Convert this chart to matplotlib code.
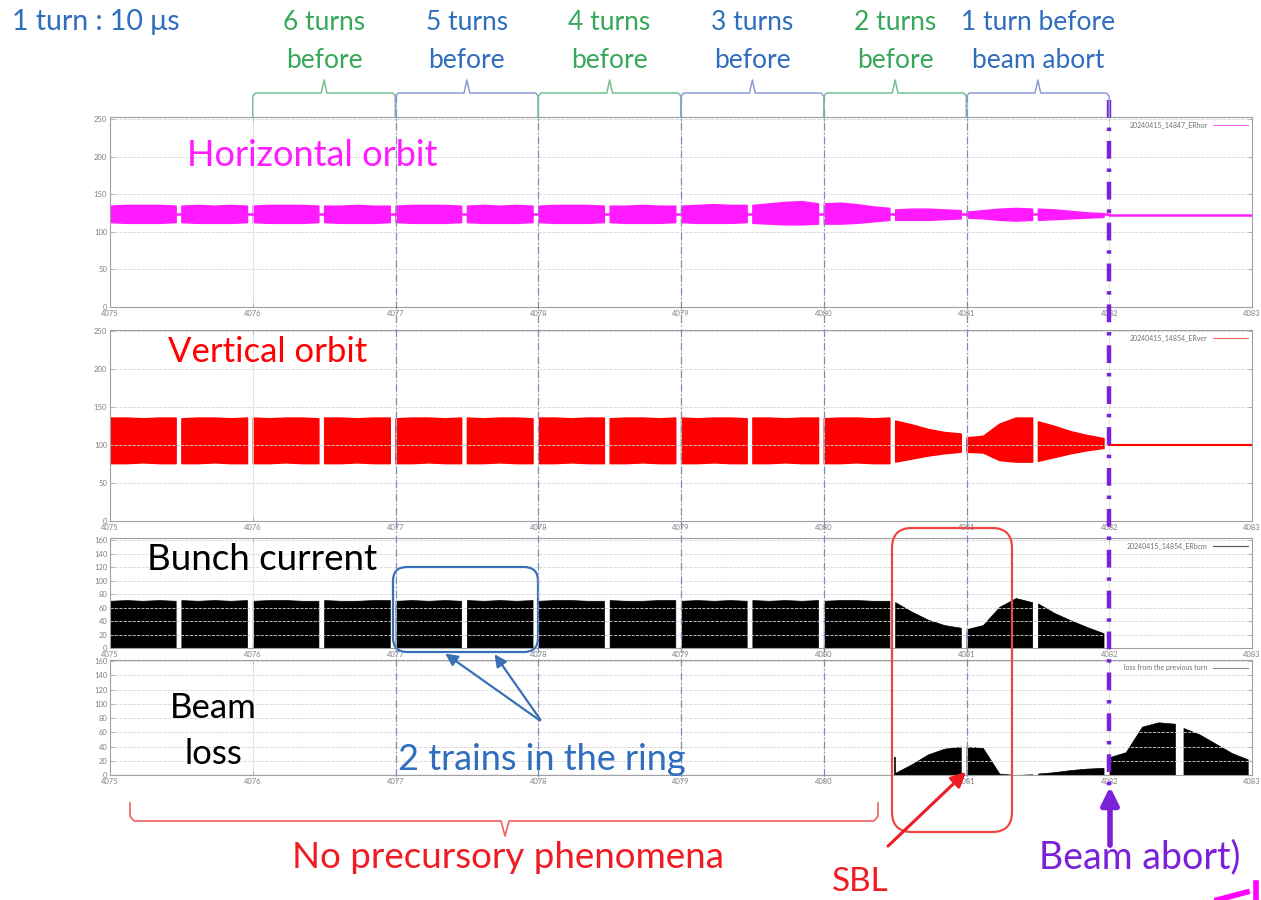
import numpy as np
import matplotlib.pyplot as plt
from matplotlib.lines import Line2D
from matplotlib.patches import FancyBboxPatch
from matplotlib.transforms import blended_transform_factory

plt.rcParams['font.family'] = ['Lato', 'DejaVu Sans']

# x axis = turn number (1 turn = 10 us), 2 bunch trains per turn
turn_ticks = [4075, 4076, 4077, 4078, 4079, 4080, 4081, 4082, 4083]
train_start = [4075.00, 4075.50, 4076.00, 4076.50, 4077.00, 4077.50, 4078.00,
               4078.50, 4079.00, 4079.50, 4080.00, 4080.50, 4081.00, 4081.50]
train_end = [4075.46, 4075.96, 4076.46, 4076.96, 4077.46, 4077.96, 4078.46,
             4078.96, 4079.46, 4079.96, 4080.46, 4080.96, 4081.46, 4081.96]
# loss panel is shifted by one turn, so it has 2 more trains after the abort
loss_start = train_start + [4082.00, 4082.52]
loss_end = train_end + [4082.46, 4082.97]
abort_turn = 4082

# envelopes read at 5 points along every train
hor_hi = [[135, 136, 136, 136, 135], [135, 136, 135, 136, 135], [135, 136, 136, 136, 135],
          [135, 135, 136, 135, 135], [135, 136, 136, 136, 135], [135, 136, 135, 136, 135],
          [135, 136, 136, 136, 135], [135, 135, 136, 135, 135], [135, 136, 137, 136, 136],
          [136, 138, 140, 141, 138], [138, 139, 137, 134, 132], [130, 131, 131, 130, 129],
          [127, 129, 131, 132, 131], [131, 130, 128, 126, 125]]
hor_lo = [[113, 112, 112, 112, 113]] * 9 + [
          [112, 111, 110, 110, 111], [111, 111, 112, 114, 116], [116, 116, 116, 117, 118],
          [119, 118, 116, 115, 116], [116, 117, 118, 119, 120]]
hor_base_x = [4075, 4082, 4082, 4083]
hor_base_y = [124, 124, 122, 122]

ver_hi = [[136, 136, 135, 136, 136], [135, 136, 136, 135, 136], [136, 135, 136, 136, 135],
          [136, 136, 135, 136, 136], [135, 136, 136, 135, 136], [136, 135, 136, 136, 135],
          [136, 136, 135, 136, 136], [135, 136, 136, 135, 136], [136, 135, 136, 136, 135],
          [136, 136, 135, 136, 136], [135, 136, 136, 135, 136], [132, 127, 121, 117, 115],
          [110, 112, 128, 136, 136], [131, 125, 118, 113, 109]]
ver_lo = [[76, 76, 77, 76, 76]] * 11 + [
          [78, 82, 86, 89, 91], [91, 90, 80, 78, 78], [79, 84, 89, 93, 96]]
ver_after_x = [4082, 4083]
ver_after_y = [100, 100]

bcm = [[70, 71, 70, 71, 70], [71, 70, 71, 70, 71], [70, 71, 71, 70, 70],
       [71, 70, 70, 71, 71], [70, 71, 70, 71, 70], [71, 70, 71, 70, 71],
       [70, 71, 71, 70, 70], [71, 70, 70, 71, 71], [70, 71, 70, 71, 70],
       [71, 70, 71, 70, 71], [70, 71, 71, 70, 70], [68, 54, 42, 34, 30],
       [28, 34, 61, 74, 68], [66, 52, 41, 31, 22]]

loss = [[0, 0, 0, 0, 0]] * 11 + [
        [3, 15, 29, 37, 40], [40, 38, 2, 0, 1], [2, 4, 7, 9, 10],
        [25, 32, 68, 74, 72], [66, 57, 44, 31, 22]]
loss_spike_x = 4080.50
loss_spike_y = 25

W, H = 1261, 900
fig = plt.figure(figsize=(W / 100, H / 100), dpi=100)


def px_axes(left, top, right, bottom):
    return fig.add_axes([left / W, 1 - bottom / H, (right - left) / W, (bottom - top) / H])


def style_panel(ax, ytop, yticks, legend_label, legend_color):
    ax.set_xlim(turn_ticks[0], turn_ticks[-1])
    ax.set_ylim(0, ytop)
    ax.set_xticks(turn_ticks)
    ax.set_xticklabels([str(t) for t in turn_ticks])
    ax.set_yticks(yticks)
    ax.tick_params(labelsize=5.5, labelcolor='#808080', direction='in', length=3,
                   width=0.5, color='#999999', right=True, top=True, pad=2)
    ax.grid(axis='y', color='#d4d4d4', lw=0.6, ls='--')
    ax.grid(axis='x', color='#dddddd', lw=0.6, ls='-')
    for s in ax.spines.values():
        s.set_color('#a0a0a0')
        s.set_linewidth(0.8)
    ax.legend(handles=[Line2D([], [], color=legend_color, lw=0.8)], labels=[legend_label],
              loc='upper right', frameon=False, markerfirst=False, fontsize=5,
              handlelength=5, borderaxespad=0.2, labelcolor='#707070')


def draw_band(ax, hi, lo, color):
    for x0, x1, h, l in zip(train_start, train_end, hi, lo):
        xs = np.linspace(x0, x1, len(h))
        ax.fill_between(xs, l, h, color=color, lw=1.0, edgecolor=color)


# horizontal orbit
ax1 = px_axes(110, 117, 1252, 307)
draw_band(ax1, hor_hi, hor_lo, '#ff1aff')
ax1.plot(hor_base_x, hor_base_y, color='#ff1aff', lw=1.8)
style_panel(ax1, 253, [0, 50, 100, 150, 200, 250], '20240415_14847_ERhor', '#ff66ff')

# vertical orbit
ax2 = px_axes(110, 330, 1252, 521)
draw_band(ax2, ver_hi, ver_lo, '#ff0000')
ax2.plot(ver_after_x, ver_after_y, color='#ff0000', lw=1.5)
style_panel(ax2, 251, [0, 50, 100, 150, 200, 250], '20240415_14854_ERver', '#ff6666')

# bunch current
ax3 = px_axes(110, 538, 1252, 648)
for x0, x1, v in zip(train_start, train_end, bcm):
    xs = np.linspace(x0, x1, len(v))
    ax3.fill_between(xs, 0, v, color='black', lw=0.5)
style_panel(ax3, 163, list(range(0, 161, 20)), '20240415_14854_ERbcm', '#555555')

# beam loss
ax4 = px_axes(110, 660, 1252, 775)
for x0, x1, v in zip(loss_start, loss_end, loss):
    xs = np.linspace(x0, x1, len(v))
    ax4.fill_between(xs, 0, v, color='black', lw=0.5)
ax4.plot([turn_ticks[0], loss_spike_x], [0, 0], color='#444444', lw=0.8)
ax4.vlines(loss_spike_x, 0, loss_spike_y, color='black', lw=1.2)
style_panel(ax4, 161.5, list(range(0, 161, 20)), 'loss from the previous turn', '#888888')

# slide annotations, drawn in pixel coordinates over the whole figure
over = fig.add_axes([0, 0, 1, 1])
over.set_xlim(0, W)
over.set_ylim(H, 0)
over.axis('off')
over.patch.set_alpha(0)
tx = blended_transform_factory(ax1.transData, over.transData)

green, blue, red, purple = '#37a85a', '#2f6dbd', '#f01c24', '#7b22d8'

for t in turn_ticks[2:7]:
    over.plot([t, t], [95, 782], transform=tx, color='#7f8db5', lw=0.9, ls=(0, (6, 2, 1, 2)))
over.plot([abort_turn, abort_turn], [100, 792], transform=tx, color=purple, lw=3.2,
          ls=(0, (4, 2.2, 0.8, 2.2)))

turn_labels = [('6 turns', 'before'), ('5 turns', 'before'), ('4 turns', 'before'),
               ('3 turns', 'before'), ('2 turns', 'before'), ('1 turn before', 'beam abort')]
for i, (l1, l2) in enumerate(turn_labels):
    t0 = turn_ticks[1 + i]
    col = green if i % 2 == 0 else blue
    bcol = '#74c192' if i % 2 == 0 else '#8e9bd8'
    xc = t0 + 0.5
    over.plot([t0, t0, t0 + 0.02, xc - 0.02, xc, xc + 0.02, t0 + 0.98, t0 + 1, t0 + 1],
              [117, 96, 93, 93, 80, 93, 93, 96, 117], transform=tx, color=bcol, lw=1.1)
    over.text(xc, 23, l1, transform=tx, ha='center', va='center', color=col, fontsize=19)
    over.text(xc, 60, l2, transform=tx, ha='center', va='center', color=col, fontsize=19)

over.text(12, 22, '1 turn : 10 μs', ha='left', va='center', color=blue, fontsize=20.5)
over.text(312, 155, 'Horizontal orbit', ha='center', va='center', color='#ff1aff', fontsize=26)
over.text(268, 352, 'Vertical orbit', ha='center', va='center', color='#ff0000', fontsize=25)
over.text(262, 560, 'Bunch current', ha='center', va='center', color='black', fontsize=26.5)
over.text(213, 708, 'Beam', ha='center', va='center', color='black', fontsize=25)
over.text(213, 754, 'loss', ha='center', va='center', color='black', fontsize=25)
over.text(542, 760, '2 trains in the ring', ha='center', va='center', color=blue, fontsize=26)
over.text(508, 857, 'No precursory phenomena', ha='center', va='center', color=red, fontsize=26.5)
over.text(860, 882, 'SBL', ha='center', va='center', color=red, fontsize=24)
over.text(1140, 857, 'Beam abort)', ha='center', va='center', color=purple, fontsize=27)

# boxes, braces and arrows
over.add_patch(FancyBboxPatch((892, 528), 120, 304, boxstyle='round,pad=0,rounding_size=20',
                              fill=False, ec='#ef4646', lw=1.6))
over.add_patch(FancyBboxPatch((393, 567), 145, 85, boxstyle='round,pad=0,rounding_size=14',
                              fill=False, ec='#3a70b5', lw=1.6))
over.plot([130, 130, 134, 501, 505, 509, 874, 878, 878],
          [803, 816, 821, 821, 836, 821, 821, 816, 803], color='#f06060', lw=1.2)
for xy in [(443, 652), (493, 652)]:
    over.annotate('', xy=xy, xytext=(542, 722),
                  arrowprops=dict(arrowstyle='-|>', color='#3a70b5', lw=1.6, mutation_scale=18))
over.annotate('', xy=(968, 770), xytext=(886, 848),
              arrowprops=dict(arrowstyle='-|>', color=red, lw=2.2, mutation_scale=22))
over.annotate('', xy=(1110, 784), xytext=(1110, 848),
              arrowprops=dict(arrowstyle='-|>', color=purple, lw=4, mutation_scale=26))
over.plot([1217, 1247], [900, 892], color='#ff00ff', lw=4)
over.plot([1256, 1256], [883, 900], color='#ff00ff', lw=4)

fig.savefig('out.png', dpi=100, facecolor='white')
